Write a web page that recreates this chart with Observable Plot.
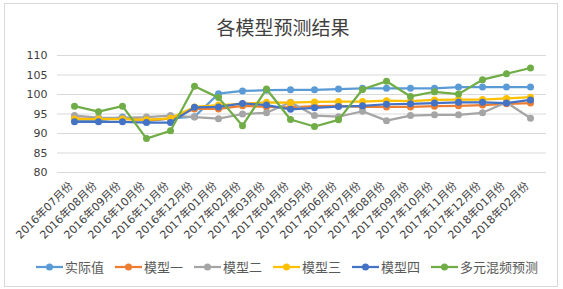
<!DOCTYPE html>
<html><head><meta charset="utf-8">
<script src="https://cdn.jsdelivr.net/npm/d3@7"></script>
<script src="https://cdn.jsdelivr.net/npm/@observablehq/plot@0.6"></script>
<style>
body{margin:0;background:#fff;font-family:"Noto Sans CJK SC","Noto Sans",sans-serif;width:563px;height:289px;overflow:hidden;position:relative;}
#frame{position:absolute;left:4px;top:3px;width:554px;height:284px;border:1px solid #d9d9d9;box-sizing:border-box;}
#title{position:absolute;left:0;top:14px;width:566px;text-align:center;font-size:19px;line-height:26px;color:#404040;}
#chart{position:absolute;left:0;top:40px;}
#legend{position:absolute;top:258px;left:0;width:574px;display:flex;justify-content:center;gap:11px;font-size:13px;color:#595959;line-height:18px;}
.item{display:flex;align-items:center;gap:2px;}
</style></head>
<body>
<div id="frame"></div>
<div id="title">各模型预测结果</div>
<div id="chart"></div>
<div id="legend"></div>
<script>
const months = ["2016年07月份","2016年08月份","2016年09月份","2016年10月份","2016年11月份","2016年12月份","2017年01月份","2017年02月份","2017年03月份","2017年04月份","2017年05月份","2017年06月份","2017年07月份","2017年08月份","2017年09月份","2017年10月份","2017年11月份","2017年12月份","2018年01月份","2018年02月份"];
const seriesNames = ["实际值","模型一","模型二","模型三","模型四","多元混频预测"];
const seriesColors = ["#5B9BD5","#ED7D31","#A5A5A5","#FFC000","#4472C4","#70AD47"];
const actual = [93.4,93.3,94.2,93.2,93.9,94.3,100.2,100.9,101.1,101.2,101.2,101.4,101.6,101.6,101.6,101.6,101.9,101.9,101.9,101.9];
const model1 = [93.8,93.8,93.8,93.4,93.8,96.3,96.3,97.1,96.8,96.7,97.0,97.1,96.8,96.8,96.8,97.0,97.1,97.3,97.6,97.8];
const model2 = [94.6,94.1,94.0,94.2,94.6,94.2,93.8,95.0,95.3,98.0,94.6,94.3,95.7,93.3,94.6,94.8,94.8,95.3,98.0,93.9];
const model3 = [93.7,93.7,93.7,93.5,93.9,96.8,97.3,97.6,98.0,97.9,98.1,98.2,98.2,98.4,98.3,98.6,98.7,98.7,99.0,99.3];
const model4 = [93.0,93.0,93.0,92.8,92.8,96.7,96.8,97.7,97.3,96.2,96.6,96.9,97.1,97.5,97.6,97.8,98.0,98.0,97.8,98.6];
const mixed  = [97.0,95.6,97.0,88.7,90.7,102.1,99.2,92.0,101.4,93.6,91.8,93.5,101.3,103.4,99.5,100.7,100.1,103.8,105.3,106.8];
const yTicks = [80,85,90,95,100,105,110];

const allValues = [actual, model1, model2, model3, model4, mixed];
const data = [];
allValues.forEach((vals, s) => vals.forEach((v, i) => data.push({series: seriesNames[s], month: months[i], value: v})));

const tickFont = '"DejaVu Sans","Noto Sans CJK SC",sans-serif';
const marks = [
  Plot.gridY(yTicks, {stroke: "#d9d9d9", strokeOpacity: 1, strokeWidth: 1}),
  Plot.axisY(yTicks, {tickSize: 0, tickPadding: 10, fontSize: 11, fontFamily: tickFont, fill: "#404040", label: null}),
  Plot.text(months, {x: d => d, frameAnchor: "bottom", rotate: -45, textAnchor: "end", dx: -1, dy: 14, fontSize: 11, fontFamily: tickFont, fill: "#404040"})
];
seriesNames.forEach((name, s) => {
  const sub = data.filter(d => d.series === name);
  marks.push(Plot.line(sub, {x: "month", y: "value", stroke: seriesColors[s], strokeWidth: 2.25}));
  marks.push(Plot.dot(sub, {x: "month", y: "value", fill: seriesColors[s], r: 3.5}));
});

const chart = Plot.plot({
  width: 563, height: 215,
  marginTop: 15, marginBottom: 83, marginLeft: 57, marginRight: 17,
  style: {fontFamily: '"Noto Sans CJK SC","Noto Sans",sans-serif', background: "transparent", overflow: "visible"},
  x: {type: "point", domain: months, padding: 0.5, axis: null},
  y: {domain: [80, 110], axis: null},
  marks
});
document.getElementById("chart").appendChild(chart);

const legend = document.getElementById("legend");
seriesNames.forEach((name, s) => {
  const item = document.createElement("div");
  item.className = "item";
  item.innerHTML = `<svg width="27" height="10"><line x1="0" x2="27" y1="5" y2="5" stroke="${seriesColors[s]}" stroke-width="2.25"/><circle cx="13.5" cy="5" r="3.5" fill="${seriesColors[s]}"/></svg><span>${name}</span>`;
  legend.appendChild(item);
});
</script>
</body></html>
